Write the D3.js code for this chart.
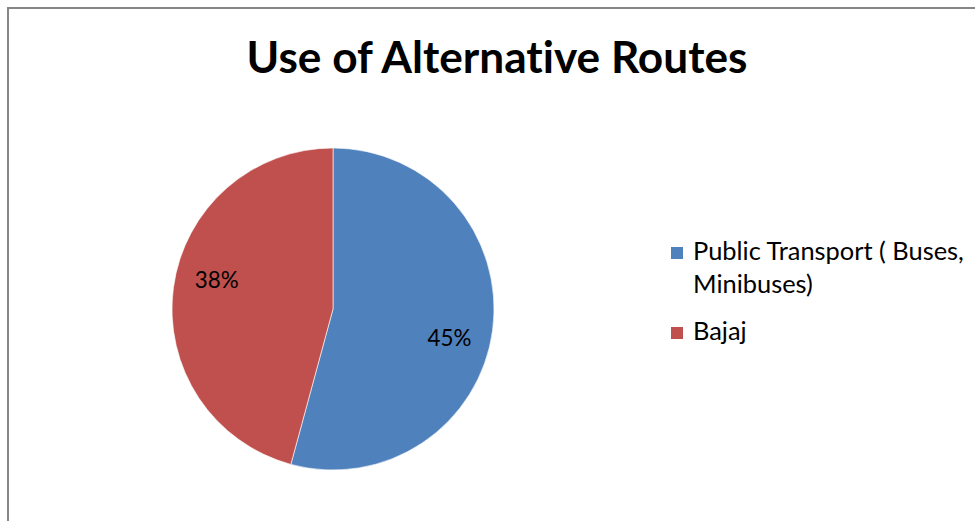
<!DOCTYPE html>
<html>
<head>
<meta charset="utf-8">
<script src="https://cdn.jsdelivr.net/npm/d3@7"></script>
<style>
  html, body { margin: 0; padding: 0; background: #fff; }
  svg { display: block; font-family: Lato, "Open Sans", sans-serif; font-variant-ligatures: none; }
</style>
</head>
<body>
<svg id="chart" width="975" height="521"></svg>
<script>
// Chart content
const title = "Use of Alternative Routes";
const categories = ["Public Transport ( Buses, Minibuses)", "Bajaj"];
const legendLines = [["Public Transport ( Buses,", "Minibuses)"], ["Bajaj"]];
const values = [45, 38];
const valueLabels = ["45%", "38%"];
const colors = ["#4F81BD", "#C0504D"];

const svg = d3.select("#chart");
const W = 975, H = 521;

// Outer chart frame (extends past the right and bottom edges)
svg.append("rect")
  .attr("x", 8).attr("y", 8)
  .attr("width", W + 10).attr("height", H + 10)
  .attr("fill", "#fff")
  .attr("stroke", "#868686")
  .attr("stroke-width", 2);

// Fit a text element's font size so its width matches a target width
function fitWidth(sel, target) {
  const node = sel.node();
  const fs = parseFloat(sel.attr("font-size"));
  const w = node.getComputedTextLength();
  if (w > 0) sel.attr("font-size", fs * target / w);
  return sel;
}

// Title
const titleText = svg.append("text")
  .attr("x", 497).attr("y", 73)
  .attr("text-anchor", "middle")
  .attr("font-weight", "bold")
  .attr("font-size", 36)
  .attr("fill", "#000")
  .text(title);
fitWidth(titleText, 501);

// Pie
const cx = 333, cy = 309, radius = 161;
const pie = d3.pie().sort(null).value(d => d)(values);
const arc = d3.arc().innerRadius(0).outerRadius(radius);
const g = svg.append("g").attr("transform", `translate(${cx},${cy})`);

g.selectAll("path")
  .data(pie)
  .join("path")
  .attr("d", arc)
  .attr("fill", (d, i) => colors[i])
  .attr("stroke", "#fff")
  .attr("stroke-width", 0.6);

// Value labels inside the slices
const labelR = 120;
const labelShift = 6.5 * Math.PI / 180;
g.selectAll("text.val")
  .data(pie)
  .join("text")
  .attr("class", "val")
  .attr("text-anchor", "middle")
  .attr("font-size", 20)
  .attr("fill", "#000")
  .attr("x", d => labelR * Math.sin((d.startAngle + d.endAngle) / 2 + labelShift))
  .attr("y", d => -labelR * Math.cos((d.startAngle + d.endAngle) / 2 + labelShift))
  .attr("dy", "0.36em")
  .text((d, i) => valueLabels[i])
  .each(function () { fitWidth(d3.select(this), 44); });

// Legend
const legendX = 671, sw = 12;
const legendRows = [{ y: 247, lines: legendLines[0] }, { y: 327, lines: legendLines[1] }];
const legend = svg.append("g");
legendRows.forEach((row, i) => {
  legend.append("rect")
    .attr("x", legendX).attr("y", row.y)
    .attr("width", sw).attr("height", sw)
    .attr("fill", colors[i]);
  const t = legend.append("text")
    .attr("x", legendX + 22)
    .attr("y", row.y + 13)
    .attr("font-size", 20)
    .attr("fill", "#000");
  row.lines.forEach((line, j) => {
    t.append("tspan")
      .attr("x", legendX + 22)
      .attr("dy", j === 0 ? 0 : 33)
      .text(line);
  });
});
// Size legend text so the first line spans its measured width
const firstLine = legend.select("tspan").node();
const lw = firstLine.getComputedTextLength();
const legendFs = 20 * 271 / lw;
legend.selectAll("text").attr("font-size", legendFs);
</script>
</body>
</html>
